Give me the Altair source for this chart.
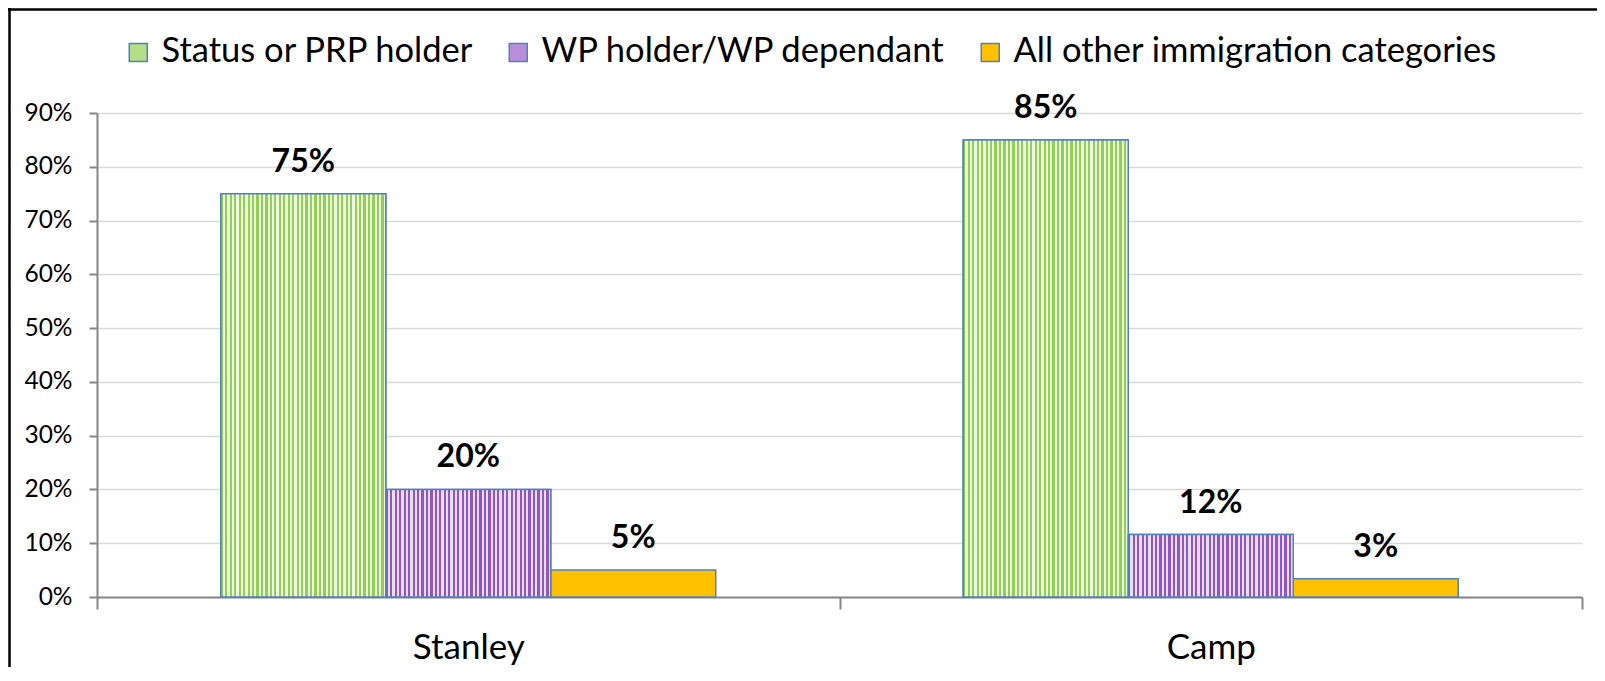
import altair as alt
import pandas as pd

categories = ["Stanley", "Camp"]
series = ["Status or PRP holder", "WP holder/WP dependant", "All other immigration categories"]
stanley_values = [0.75, 0.20, 0.05]
camp_values = [0.85, 0.116, 0.034]
y_ticks = [0, 0.1, 0.2, 0.3, 0.4, 0.5, 0.6, 0.7, 0.8, 0.9]

rows = []
for cat, vals in zip(categories, [stanley_values, camp_values]):
    for s, v in zip(series, vals):
        rows.append({"category": cat, "series": s, "value": v})
df = pd.DataFrame(rows)

FONT = "Lato"
W, H = 1485, 484
PAD = {"left": 89, "top": 105, "right": 15, "bottom": 70}


def stripes(dark, light, n=37):
    stops = []
    for i in range(n):
        a, m, b = i / n, (i + 0.5) / n, min((i + 1) / n, 1.0)
        stops += [
            alt.GradientStop(offset=a, color=dark),
            alt.GradientStop(offset=m, color=dark),
            alt.GradientStop(offset=m, color=light),
            alt.GradientStop(offset=b, color=light),
        ]
    return alt.LinearGradient(gradient="linear", stops=stops, x1=0, x2=1, y1=0, y2=0)


green_grad = stripes("#92d050", "#eef7e4")
purple_grad = stripes("#9455c4", "#e8def2")

x_enc = alt.X(
    "category:N",
    sort=categories,
    scale=alt.Scale(paddingInner=0, paddingOuter=0),
    axis=alt.Axis(
        title=None, labelAngle=0, tickBand="extent", grid=False,
        labelFont=FONT, labelFontSize=35, labelColor="black",
        labelBaseline="middle", labelPadding=38, tickSize=12,
        domainColor="#868686", tickColor="#868686", domainWidth=2, tickWidth=2,
    ),
)
xo_enc = alt.XOffset("series:N", sort=series, scale=alt.Scale(domain=series, paddingInner=0, paddingOuter=0.75))
y_enc = alt.Y(
    "value:Q",
    scale=alt.Scale(domain=[0, 0.9], nice=False),
    axis=alt.Axis(
        title=None, values=y_ticks, format=".0%", grid=True,
        gridColor="#d9d9d9", gridWidth=1.5,
        labelFont=FONT, labelFontSize=24.5, labelColor="black",
        labelPadding=17, tickSize=8,
        domainColor="#868686", tickColor="#868686", domainWidth=2, tickWidth=2,
    ),
)

base = alt.Chart(df)

bars = base.mark_bar(stroke="#4f81bd", strokeWidth=1.5).encode(
    x=x_enc,
    xOffset=xo_enc,
    y=y_enc,
    color=alt.Color(
        "series:N",
        sort=series,
        scale=alt.Scale(domain=series, range=["#b5df86", "#b88fd8", "#ffc000"]),
        legend=alt.Legend(
            title=None, orient="none", legendX=24, legendY=-78, direction="horizontal",
            labelFont=FONT, labelFontSize=34.5, labelColor="black", labelBaseline="middle",
            symbolType="square", symbolSize=324, symbolStrokeColor="#4f81bd",
            symbolStrokeWidth=1.5, symbolOpacity=1, labelOffset=6, columnPadding=27,
            padding=0, labelLimit=0,
        ),
    ),
)

green_bars = base.transform_filter(alt.datum.series == series[0]).mark_bar(
    fill=green_grad, stroke="#4f81bd", strokeWidth=1.5
).encode(x=x_enc, xOffset=xo_enc, y=y_enc)

purple_bars = base.transform_filter(alt.datum.series == series[1]).mark_bar(
    fill=purple_grad, stroke="#4f81bd", strokeWidth=1.5
).encode(x=x_enc, xOffset=xo_enc, y=y_enc)

labels = base.mark_text(
    dy=-32, font=FONT, fontSize=32, fontWeight="bold", color="black", baseline="middle"
).encode(x=x_enc, xOffset=xo_enc, y=y_enc, text=alt.Text("value:Q", format=".0%"))

one = alt.Chart(pd.DataFrame({"a": [0]}))
border_left = one.mark_rule(color="black", strokeWidth=2.5).encode(
    x=alt.value(-87.5), y=alt.value(-105), y2=alt.value(H + PAD["bottom"])
)
border_top = one.mark_rule(color="black", strokeWidth=2.5).encode(
    x=alt.value(-89), x2=alt.value(W + PAD["right"]), y=alt.value(-103.5)
)

chart = alt.layer(bars, green_bars, purple_bars, labels, border_left, border_top).properties(
    width=W, height=H,
    autosize=alt.AutoSizeParams(type="none"),
    padding=PAD,
    background="white",
).configure_view(stroke=None)

chart.save("out.html", embed_options={"renderer": "svg", "actions": False})
